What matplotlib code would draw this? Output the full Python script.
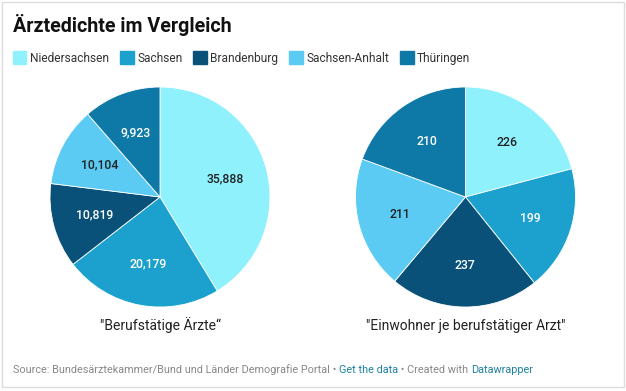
import matplotlib
matplotlib.use("Agg")
import matplotlib.pyplot as plt
from matplotlib.patches import Rectangle

plt.rcParams['font.family'] = ['Roboto', 'DejaVu Sans']

# data
states = ["Niedersachsen", "Sachsen", "Brandenburg", "Sachsen-Anhalt", "Thüringen"]
aerzte = [35888, 20179, 10819, 10104, 9923]
einwohner_je_arzt = [226, 199, 237, 211, 210]
colors = ["#8ef1fc", "#1ca1cf", "#0a5179", "#5bcbf3", "#0e78a6"]
label_colors = ["#222222", "white", "white", "#222222", "white"]

W, H = 626, 391
fig = plt.figure(figsize=(W / 100, H / 100), dpi=100)
fig.patch.set_facecolor("white")


def fx(px):
    return px / W


def fy(py):
    return 1 - py / H


# border round the chart
fig.patches.append(Rectangle((fx(1.5), fy(387)), fx(622), 385.5 / H,
                             transform=fig.transFigure, fill=False,
                             edgecolor="#dcdcdc", linewidth=1))

fig.text(fx(13), fy(32), "Ärztedichte im Vergleich", fontsize=14.1,
         fontweight="bold", color="#111111", va="baseline")

# legend, laid out left to right
renderer = fig.canvas.get_renderer()
x = 13
for name, c in zip(states, colors):
    fig.patches.append(Rectangle((fx(x), fy(64)), fx(13.5), 13.5 / H,
                                 transform=fig.transFigure, color=c))
    t = fig.text(fx(x + 17), fy(62), name, fontsize=8.6, color="#333333",
                 va="baseline")
    w = t.get_window_extent(renderer).width
    x = x + 17 + w + 11


def draw_pie(cx, values, title):
    r = 110
    ax = fig.add_axes([fx(cx - r), fy(197 + r), fx(2 * r), 2 * r / H])
    wedges, texts = ax.pie(values, colors=colors, startangle=90,
                           counterclock=False,
                           labels=["{:,}".format(v) for v in values],
                           labeldistance=0.62,
                           wedgeprops=dict(edgecolor="white", linewidth=0.6))
    for t, lc in zip(texts, label_colors):
        t.set(ha="center", va="center", color=lc, fontsize=8.8,
              fontweight="medium")
    ax.set_xlim(-1, 1)
    ax.set_ylim(-1, 1)
    ax.set_aspect("equal")
    fig.text(fx(cx), fy(330), title, fontsize=10, color="#222222",
             ha="center", va="baseline")


draw_pie(160, aerzte, '"Berufstätige Ärzte“')
draw_pie(465.5, einwohner_je_arzt, '"Einwohner je berufstätiger Arzt"')

# footer
parts = [("Source: Bundesärztekammer/Bund und Länder Demografie Portal", "#888888"),
         (" • ", "#888888"),
         ("Get the data", "#1d81a2"),
         (" • Created with ", "#888888"),
         ("Datawrapper", "#1d81a2")]
x = 13
for s, c in parts:
    t = fig.text(fx(x), fy(373), s, fontsize=7.85, color=c, va="baseline")
    x += t.get_window_extent(renderer).width

fig.savefig("out.png", dpi=100, facecolor="white")
